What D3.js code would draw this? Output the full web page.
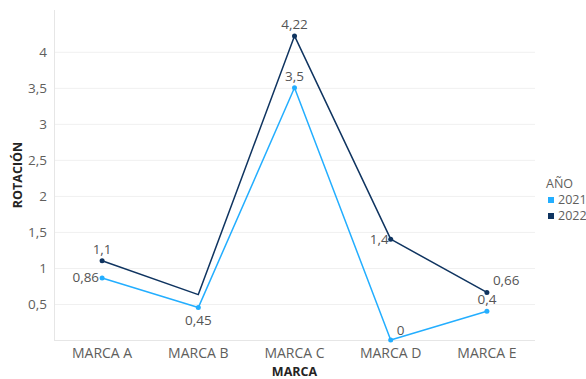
<!DOCTYPE html>
<html>
<head>
<meta charset="utf-8">
<script src="https://cdn.jsdelivr.net/npm/d3@7"></script>
<style>
  body { margin: 0; background: #fff; }
  text { font-family: "Open Sans", "Noto Sans", sans-serif; }
</style>
</head>
<body>
<div id="chart"></div>
<script>
const marcas = ["MARCA A", "MARCA B", "MARCA C", "MARCA D", "MARCA E"];
const v2021 = [0.86, 0.45, 3.5, 0, 0.4];
const v2022 = [1.1, 0.63, 4.22, 1.4, 0.66];
const yTicks = [0.5, 1, 1.5, 2, 2.5, 3, 3.5, 4];
// label placement per point: [dx, dy, anchor]
const lab2021 = [[-3, 4, "end"], [0, 17, "middle"], [0, -7, "middle"], [6, -5, "start"], [0, -7, "middle"]];
const lab2022 = [[0, -7, "middle"], null, [0, -7, "middle"], [-2, 5, "end"], [6, -7, "start"]];

const series = [
  { name: "2021", values: v2021, color: "#23AEFF", labels: lab2021 },
  { name: "2022", values: v2022, color: "#0F3460", labels: lab2022 }
];

const width = 586, height = 379;
const margin = { top: 10, right: 51, bottom: 39, left: 54 };

const svg = d3.select("#chart")
  .append("svg")
  .attr("width", width)
  .attr("height", height);

const x = d3.scalePoint()
  .domain(marcas)
  .range([margin.left, width - margin.right])
  .padding(0.5);

const y = d3.scaleLinear()
  .domain([0, 4.58])
  .range([height - margin.bottom, margin.top]);

const fmt = v => String(v).replace(".", ",");

// grid
svg.append("g")
  .selectAll("line")
  .data(yTicks)
  .join("line")
  .attr("x1", margin.left)
  .attr("x2", width - margin.right)
  .attr("y1", d => y(d) + 0.5)
  .attr("y2", d => y(d) + 0.5)
  .attr("stroke", "#f0f0f0");

// axis lines
svg.append("line")
  .attr("x1", margin.left + 0.5).attr("x2", margin.left + 0.5)
  .attr("y1", margin.top).attr("y2", y(0))
  .attr("stroke", "#e6e6e6");
svg.append("line")
  .attr("x1", margin.left).attr("x2", width - margin.right)
  .attr("y1", y(0) + 0.5).attr("y2", y(0) + 0.5)
  .attr("stroke", "#e6e6e6");

// y tick labels
svg.append("g")
  .selectAll("text")
  .data(yTicks)
  .join("text")
  .attr("x", margin.left - 7)
  .attr("y", d => y(d))
  .attr("dy", "0.35em")
  .attr("text-anchor", "end")
  .attr("font-size", 13.5)
  .attr("fill", "#605E5C")
  .text(fmt);

// x tick labels
svg.append("g")
  .selectAll("text")
  .data(marcas)
  .join("text")
  .attr("x", d => x(d))
  .attr("y", y(0) + 18)
  .attr("text-anchor", "middle")
  .attr("font-size", 14)
  .attr("fill", "#605E5C")
  .text(d => d);

// axis titles
svg.append("text")
  .attr("x", (margin.left + width - margin.right) / 2)
  .attr("y", 376)
  .attr("text-anchor", "middle")
  .attr("font-size", 12.5)
  .attr("font-weight", "bold")
  .attr("fill", "#252423")
  .text("MARCA");

svg.append("text")
  .attr("transform", `translate(22,${(margin.top + y(0)) / 2}) rotate(-90)`)
  .attr("text-anchor", "middle")
  .attr("font-size", 12.5)
  .attr("font-weight", "bold")
  .attr("fill", "#252423")
  .text("ROTACIÓN");

const line = d3.line()
  .x((d, i) => x(marcas[i]))
  .y(d => y(d));

series.forEach(s => {
  const g = svg.append("g");
  g.append("path")
    .datum(s.values)
    .attr("fill", "none")
    .attr("stroke", s.color)
    .attr("stroke-width", 1.5)
    .attr("stroke-linejoin", "round")
    .attr("d", line);

  s.values.forEach((v, i) => {
    const lp = s.labels[i];
    if (!lp) return;
    g.append("circle")
      .attr("cx", x(marcas[i]))
      .attr("cy", y(v))
      .attr("r", 2.5)
      .attr("fill", s.color);
    g.append("text")
      .attr("x", x(marcas[i]) + lp[0])
      .attr("y", y(v) + lp[1])
      .attr("text-anchor", lp[2])
      .attr("font-size", 13.5)
      .attr("fill", "#555")
      .text(fmt(v));
  });
});

// legend
const legend = svg.append("g").attr("transform", "translate(546,0)");
legend.append("text")
  .attr("x", 0).attr("y", 188)
  .attr("font-size", 12.5)
  .attr("fill", "#605E5C")
  .text("AÑO");
series.forEach((s, i) => {
  legend.append("rect")
    .attr("x", 2).attr("y", 197 + i * 16)
    .attr("width", 6).attr("height", 6)
    .attr("fill", s.color);
  legend.append("text")
    .attr("x", 12).attr("y", 204 + i * 16)
    .attr("font-size", 12.5)
    .attr("fill", "#605E5C")
    .text(s.name);
});
</script>
</body>
</html>
